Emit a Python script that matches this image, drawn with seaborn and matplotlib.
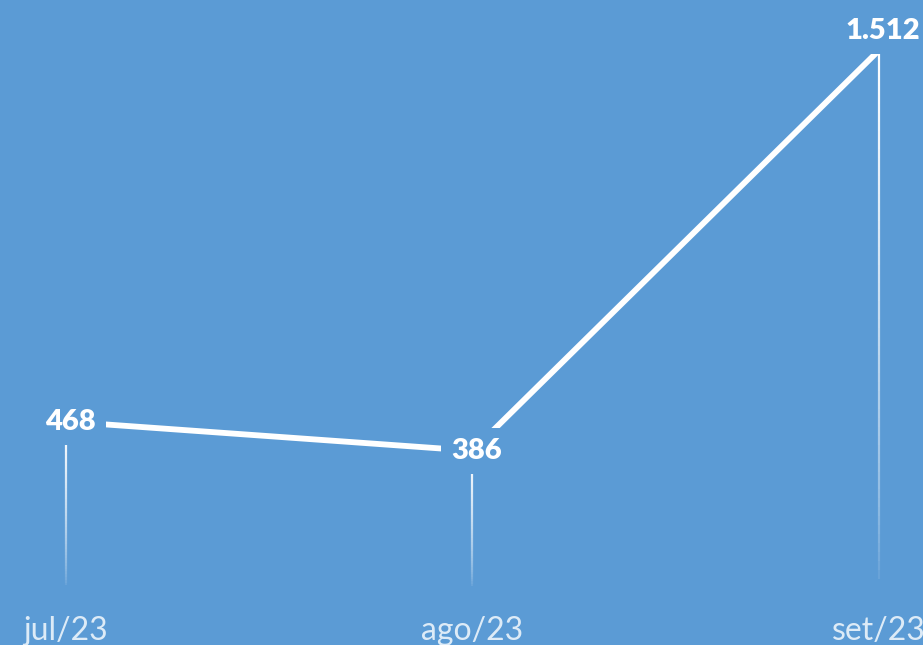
import seaborn as sns
import matplotlib.pyplot as plt
import pandas as pd
import numpy as np
from matplotlib.collections import LineCollection

# Data
months = ["jul/23", "ago/23", "set/23"]
values = [468, 386, 1512]
value_labels = ["468", "386", "1.512"]

bg = "#5B9BD5"
sns.set_style("white")
plt.rcParams["font.family"] = ["Lato", "DejaVu Sans"]

data = pd.DataFrame({"pos": range(len(months)), "Valor": values})

fig = plt.figure(figsize=(9.23, 6.45), dpi=100, facecolor=bg)
ax = fig.add_axes([0, 0, 1, 1])
ax.set_facecolor(bg)

# main line
sns.lineplot(x="pos", y="Valor", data=data, color="white", linewidth=4.2,
             ax=ax, zorder=2, solid_capstyle="butt")

# drop lines fading towards the axis
n = 60
for x, v in zip(data["pos"], data["Valor"]):
    ys = np.linspace(0, v, n + 1)
    segs = [[(x, ys[i]), (x, ys[i + 1])] for i in range(n)]
    alphas = np.linspace(0.0, 1.0, n) ** 0.6
    cols = [(1, 1, 1, a) for a in alphas]
    ax.add_collection(LineCollection(segs, colors=cols, linewidths=1.6, zorder=1))

# data labels, boxed in the background colour so they mask the lines
offsets = [0, 0, 14]
for x, v, lab, off in zip(data["pos"], data["Valor"], value_labels, offsets):
    ax.annotate(lab, (x, v), xytext=(3, off), textcoords="offset points",
                ha="center", va="center", fontsize=21, fontweight="heavy",
                color="white", zorder=3,
                bbox=dict(boxstyle="square,pad=0.35", fc=bg, ec="none"))

# month labels
for x, m in zip(data["pos"], months):
    ax.text(x, -122, m, ha="center", va="center", fontsize=23,
            color="#DDEBF7", zorder=3)

ax.set_xlim(-0.162, 2.108)
ax.set_ylim(-160, 1653)
ax.axis("off")

plt.savefig("out.png", dpi=100, facecolor=bg)
